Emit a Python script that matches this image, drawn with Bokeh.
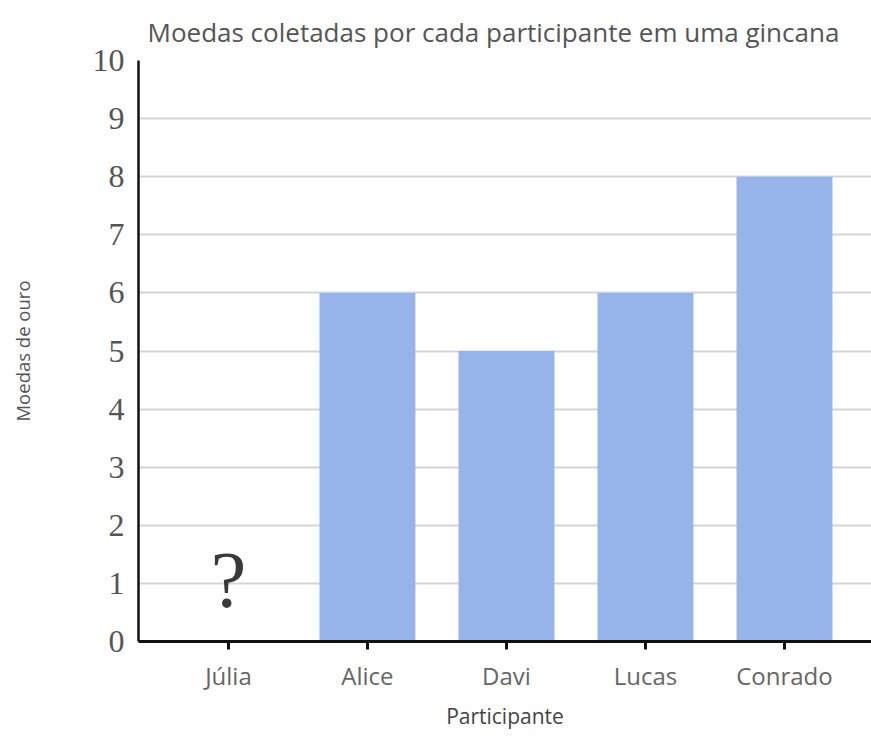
from bokeh.plotting import figure
from bokeh.models import FixedTicker, Range1d, Title, ColumnDataSource
from bokeh.core.properties import value
from bokeh.embed import file_html
from bokeh.resources import INLINE

participants = ["Júlia", "Alice", "Davi", "Lucas", "Conrado"]
coins = [None, 6, 5, 6, 8]  # Júlia's value is unknown ("?")
unknown_marker = "?"
unknown_y = 1.05
y_ticks = list(range(0, 11))

title_text = "Moedas coletadas por cada participante em uma gincana"
x_label = "Participante"
y_label = "Moedas de ouro"

xs = [i for i, v in enumerate(coins) if v is not None]
tops = [v for v in coins if v is not None]
src = ColumnDataSource(dict(x=xs, top=tops))

p = figure(width=871, height=756, output_backend="svg", toolbar_location=None,
           x_range=Range1d(-0.647, 4.626), y_range=Range1d(0, 10),
           min_border_left=138, min_border_right=0, min_border_top=60, min_border_bottom=115)
p.frame_width = 733
p.frame_height = 581
p.outline_line_color = None
p.background_fill_color = "white"

p.vbar(x="x", top="top", width=0.69, source=src, fill_color="#97b4ea", line_color=None)

unk_idx = [i for i, v in enumerate(coins) if v is None]
p.text(x=unk_idx, y=[unknown_y] * len(unk_idx), text=[unknown_marker] * len(unk_idx),
       text_font=value("Liberation Serif"), text_font_size="80px", text_color="#3a3a3a",
       text_align="center", text_baseline="middle")

# title
t = Title(text=title_text, align="left", offset=9, text_font="Open Sans",
          text_font_size="26px", text_font_style="normal", text_color="#555555", standoff=21)
p.title = t

# y axis
p.yaxis.ticker = FixedTicker(ticks=y_ticks)
p.yaxis.major_tick_line_color = None
p.yaxis.minor_tick_line_color = None
p.yaxis.major_tick_out = 0
p.yaxis.major_tick_in = 0
p.yaxis.axis_line_color = "#111111"
p.yaxis.axis_line_width = 2.5
p.yaxis.major_label_text_font = "Liberation Serif"
p.yaxis.major_label_text_font_size = "32px"
p.yaxis.major_label_text_color = "#555555"
p.yaxis.major_label_standoff = 14
p.yaxis.axis_label = y_label
p.yaxis.axis_label_text_font = "Open Sans"
p.yaxis.axis_label_text_font_size = "18.5px"
p.yaxis.axis_label_text_font_style = "normal"
p.yaxis.axis_label_text_color = "#555555"
p.yaxis.axis_label_standoff = 55

# x axis
p.xaxis.ticker = FixedTicker(ticks=list(range(len(participants))))
p.xaxis.major_label_overrides = {i: n for i, n in enumerate(participants)}
p.xaxis.minor_tick_line_color = None
p.xaxis.major_tick_out = 8
p.xaxis.major_tick_in = 0
p.xaxis.major_tick_line_color = "#111111"
p.xaxis.major_tick_line_width = 3
p.xaxis.axis_line_color = "#111111"
p.xaxis.axis_line_width = 3
p.xaxis.major_label_text_font = "Open Sans"
p.xaxis.major_label_text_font_size = "24px"
p.xaxis.major_label_text_color = "#666666"
p.xaxis.major_label_standoff = 9
p.xaxis.axis_label = x_label
p.xaxis.axis_label_text_font = "Open Sans"
p.xaxis.axis_label_text_font_size = "21px"
p.xaxis.axis_label_text_font_style = "normal"
p.xaxis.axis_label_text_color = "#444444"
p.xaxis.axis_label_standoff = 7

p.xgrid.grid_line_color = None
p.ygrid.ticker = FixedTicker(ticks=y_ticks)
p.ygrid.grid_line_color = "#d4d4d4"
p.ygrid.grid_line_width = 2

open("out.html", "w").write(file_html(p, INLINE))
